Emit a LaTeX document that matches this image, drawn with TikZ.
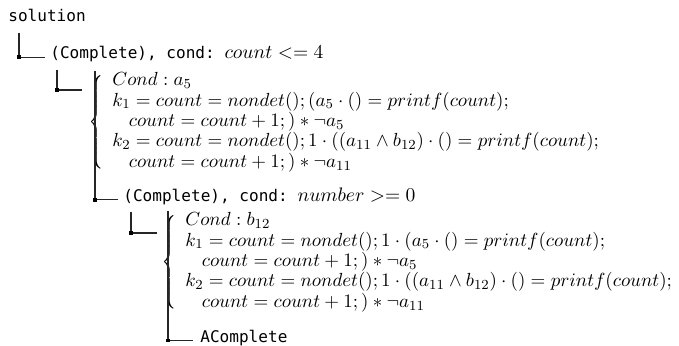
\documentclass[tikz,border=0pt]{standalone}
\usepackage{fontspec}
\setmonofont{DejaVu Sans Mono}
\usetikzlibrary{calc}
\newcommand{\mexpr}[1]{{\fontsize{10.95}{12}\selectfont$#1$}}
\tikzset{
  lbl/.style={inner sep=0pt, anchor=base west, font=\fontsize{9}{11}\ttfamily},
  blk/.style={inner sep=0pt, anchor=north west, font=\fontsize{10.95}{11.8}\selectfont},
  branch/.style={draw=black!85, line width=0.6pt},
  knot/.style={fill=black, minimum size=2.2pt, inner sep=0pt}
}

\begin{document}
\begin{tikzpicture}[x=0.56pt, y=-0.56pt]
\useasboundingbox (0,0) rectangle (679,345);
\node[lbl] (sol) at (8,21) {solution};
\node[lbl] (c1) at (50,58) {(Complete), cond: \mexpr{count <= 4}};
\node[blk] (blkA) at (88,71) {\scalebox{0.97}{$\left\{\begin{array}{@{\hskip 5pt}l}
  Cond : a_5\\
  k_1 = count = nondet();(a_5\cdot() = printf(count);\\
  \hskip 9.5pt count = count + 1;)\ast\neg a_5\\
  k_2 = count = nondet();1\cdot((a_{11}\wedge b_{12})\cdot() = printf(count);\\
  \hskip 9.5pt count = count + 1;)\ast\neg a_{11}
  \end{array}\right.$}};
\node[lbl] (c2) at (123,201) {(Complete), cond: \mexpr{number >= 0}};
\node[blk] (blkB) at (161,211) {\scalebox{0.97}{$\left\{\begin{array}{@{\hskip 5pt}l}
  Cond : b_{12}\\
  k_1 = count = nondet();1\cdot(a_5\cdot() = printf(count);\\
  \hskip 9.5pt count = count + 1;)\ast\neg a_5\\
  k_2 = count = nondet();1\cdot((a_{11}\wedge b_{12})\cdot() = printf(count);\\
  \hskip 9.5pt count = count + 1;)\ast\neg a_{11}
  \end{array}\right.$}};
\node[lbl] (acomp) at (200,342) {AComplete};
\draw[branch] ($(sol.south west)+(11,11)$) |- ($(c1.west)+(-5,4)$) node[pos=.5,knot]{};
\draw[branch] ($(c1.south west)+(7,8)$) |- ($(blkA.north west)+(-6,19)$) node[pos=.5,knot]{};
\draw[branch] ($(blkA.north west)+(7,0)$) |- ($(c2.west)+(-5,4)$) node[pos=.5,knot]{};
\draw[branch] ($(c2.south west)+(8,7)$) |- ($(blkB.north west)+(-4,22)$) node[pos=.5,knot]{};
\draw[branch] ($(blkB.north west)+(7,0)$) |- ($(acomp.west)+(-7,3)$) node[pos=.5,knot]{};
\end{tikzpicture}
\end{document}
